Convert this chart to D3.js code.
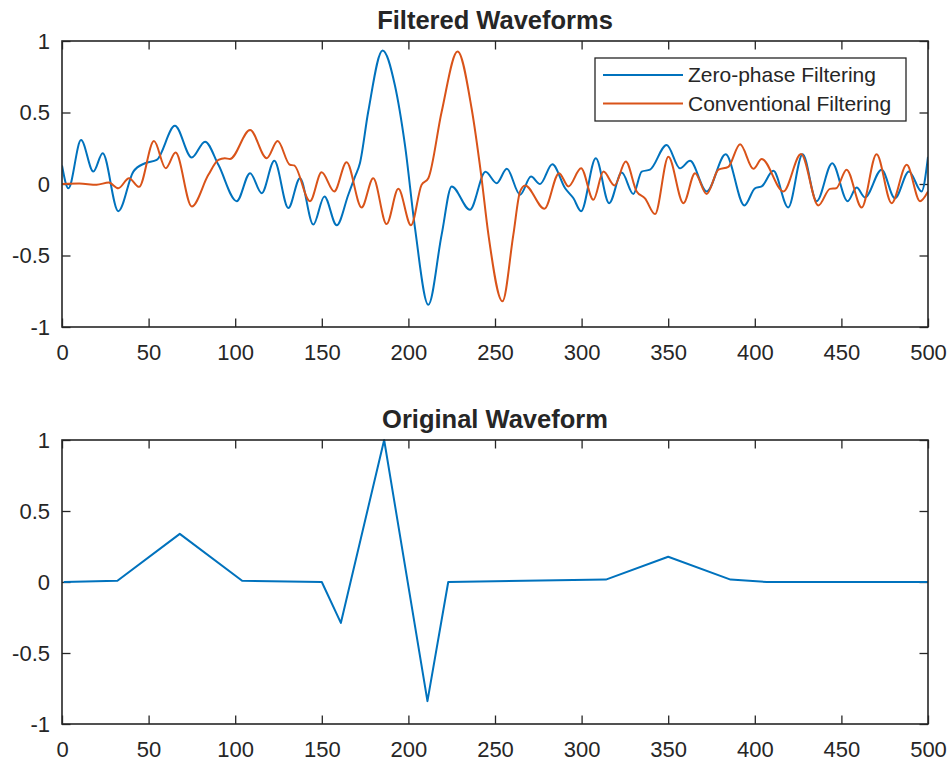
<!DOCTYPE html>
<html><head><meta charset="utf-8">
<script src="https://cdn.jsdelivr.net/npm/d3@7"></script>
<style>
body{margin:0;background:#fff}
svg{display:block}
text{font-family:"Liberation Sans",Arial,Helvetica,sans-serif;fill:#262626}
</style>
</head><body>
<svg id="chart" width="951" height="762"></svg>
<script>
// ---- data ----
const sampleTicks = [0, 50, 100, 150, 200, 250, 300, 350, 400, 450, 500];
const valueTicks = [-1, -0.5, 0, 0.5, 1];
const titles = ["Filtered Waveforms", "Original Waveform"];
const seriesNames = ["Zero-phase Filtering", "Conventional Filtering"];

const zeroPhaseX = [0, 3.7, 11, 18.1, 23.5, 32.5, 41.2, 47.9, 54.7, 65.2, 74.9, 82.6, 90.3, 100.9, 108.6, 115.3, 122.6, 130.7, 137.4, 145.1, 151.5, 158.6, 165.3, 169.1, 172, 176.8, 185.1, 192.2, 198, 203.8, 211.5, 219.2, 225, 235.5, 244.5, 251, 256.8, 264.5, 270.8, 276, 283.1, 290.5, 295.3, 299.7, 308.2, 315.9, 323.2, 329.9, 334.7, 339.5, 349.1, 356.8, 362.6, 372.2, 383.2, 394, 400.1, 404, 410.7, 419.3, 427.6, 435.7, 444.7, 453.6, 458.8, 463.6, 473.2, 480.9, 489, 496.3, 500];
const zeroPhaseY = [0.13, -0.03, 0.307, 0.087, 0.215, -0.19, 0.087, 0.145, 0.168, 0.407, 0.185, 0.296, 0.134, -0.12, 0.076, -0.064, 0.162, -0.168, 0.041, -0.284, -0.087, -0.289, -0.075, 0.05, 0.145, 0.505, 0.934, 0.69, 0.273, -0.307, -0.845, -0.354, -0.017, -0.18, 0.085, 0.006, 0.106, -0.075, 0.052, 0, 0.138, -0.03, -0.1, -0.19, 0.18, -0.134, 0.08, -0.07, 0.087, 0.1, 0.273, 0.11, 0.162, -0.052, 0.208, -0.15, -0.03, -0.017, 0.092, -0.164, 0.208, -0.12, 0.145, -0.12, -0.025, -0.094, 0.1, -0.1, 0.087, -0.052, 0.19];

const conventionalX = [0, 10, 20, 27, 32.5, 38.7, 44.5, 53.1, 59.9, 65.6, 74.9, 84.5, 90.3, 94, 97, 108.6, 118.2, 124.5, 131.6, 134, 143.2, 149.9, 157.2, 164.3, 173, 179.7, 187.4, 194.2, 201.5, 207.6, 211.5, 219.2, 228.4, 236.5, 242, 246.2, 254.3, 260.6, 264.5, 267.4, 278.5, 287, 292.4, 299.7, 306.8, 312.6, 319, 325.5, 331.8, 336.6, 342.4, 350.1, 358.8, 365.5, 372.2, 379, 384.7, 391.5, 399.2, 404, 416.5, 426.7, 436.7, 443.4, 447, 453, 461.7, 470.3, 479, 487.7, 495.4, 500];
const conventionalY = [0, 0.003, -0.005, 0.01, -0.03, 0.04, -0.02, 0.3, 0.11, 0.22, -0.157, 0.064, 0.168, 0.18, 0.175, 0.377, 0.18, 0.3, 0.134, 0.13, -0.12, 0.082, -0.052, 0.152, -0.164, 0.04, -0.28, -0.034, -0.289, -0.006, 0.04, 0.505, 0.927, 0.528, 0.064, -0.354, -0.82, -0.354, -0.052, -0.01, -0.173, 0.076, -0.017, 0.11, -0.11, 0.087, -0.01, 0.157, -0.052, -0.1, -0.21, 0.191, -0.134, 0.076, -0.07, 0.1, 0.12, 0.278, 0.106, 0.175, -0.052, 0.21, -0.15, -0.034, -0.03, 0.1, -0.164, 0.208, -0.134, 0.134, -0.12, -0.052];

const originalX = [1, 32, 68, 104, 150, 161, 186, 211, 223, 314, 350, 386, 407, 444, 500];
const originalY = [0, 0.0085, 0.339, 0.0085, 0, -0.288, 1, -0.839, 0, 0.017, 0.178, 0.017, 0, 0, 0];

// ---- drawing ----
const svg = d3.select("#chart");
const C = { axis: "#262626", blue: "#0072BD", orange: "#D95319" };
const left = 62, right = 928;
const x = d3.scaleLinear().domain([0, 500]).range([left, right]);

function panel(top, bottom, title, idx) {
  const y = d3.scaleLinear().domain([-1, 1]).range([bottom, top]);
  const g = svg.append("g");
  g.append("rect").attr("x", left).attr("y", top).attr("width", right - left).attr("height", bottom - top).attr("fill", "#fff");

  const tickLen = 8.5;
  const styleAxis = sel => {
    sel.select(".domain").remove();
    sel.selectAll(".tick line").attr("stroke", C.axis).attr("stroke-width", 1.3);
    sel.selectAll(".tick text").attr("fill", C.axis).style("font-size", "22px");
  };
  g.append("g").attr("transform", `translate(0,${bottom})`)
    .call(d3.axisBottom(x).tickValues(sampleTicks).tickSizeInner(-tickLen).tickSizeOuter(0).tickPadding(17).tickFormat(d => String(d)))
    .call(styleAxis);
  g.append("g").attr("transform", `translate(0,${top})`)
    .call(d3.axisTop(x).tickValues(sampleTicks).tickSizeInner(-tickLen).tickSizeOuter(0).tickFormat(""))
    .call(styleAxis);
  g.append("g").attr("transform", `translate(${left},0)`)
    .call(d3.axisLeft(y).tickValues(valueTicks).tickSizeInner(-tickLen).tickSizeOuter(0).tickPadding(12).tickFormat(d => String(d)))
    .call(styleAxis);
  g.append("g").attr("transform", `translate(${right},0)`)
    .call(d3.axisRight(y).tickValues(valueTicks).tickSizeInner(-tickLen).tickSizeOuter(0).tickFormat(""))
    .call(styleAxis);

  const clipId = "clip" + idx;
  svg.append("clipPath").attr("id", clipId).append("rect")
    .attr("x", left).attr("y", top - 2).attr("width", right - left).attr("height", bottom - top + 4);

  g.append("text").attr("x", (left + right) / 2).attr("y", top - 12)
    .attr("text-anchor", "middle").style("font-size", "25.5px").style("font-weight", "bold").text(title);

  return { g, y, clipId, top, bottom };
}

const p1 = panel(41, 327, titles[0], 1);
const p2 = panel(440, 724, titles[1], 2);

function drawLine(p, xs, ys, color, curve) {
  const pts = xs.map((v, i) => [v, ys[i]]);
  p.g.append("path").datum(pts)
    .attr("clip-path", `url(#${p.clipId})`)
    .attr("fill", "none").attr("stroke", color).attr("stroke-width", 2)
    .attr("stroke-linejoin", "round")
    .attr("d", d3.line().x(d => x(d[0])).y(d => p.y(d[1])).curve(curve));
}

drawLine(p1, zeroPhaseX, zeroPhaseY, C.blue, d3.curveMonotoneX);
drawLine(p1, conventionalX, conventionalY, C.orange, d3.curveMonotoneX);
drawLine(p2, originalX, originalY, C.blue, d3.curveLinear);

// frames on top
[p1, p2].forEach(p => {
  p.g.append("rect").attr("x", left).attr("y", p.top).attr("width", right - left).attr("height", p.bottom - p.top)
    .attr("fill", "none").attr("stroke", C.axis).attr("stroke-width", 1.6);
});

// legend
const lg = svg.append("g");
lg.append("rect").attr("x", 595).attr("y", 58).attr("width", 311).attr("height", 63)
  .attr("fill", "#fff").attr("stroke", C.axis).attr("stroke-width", 1.3);
const legendColors = [C.blue, C.orange];
seriesNames.forEach((name, i) => {
  const yy = 75 + i * 28.5;
  lg.append("line").attr("x1", 603).attr("x2", 683).attr("y1", yy).attr("y2", yy)
    .attr("stroke", legendColors[i]).attr("stroke-width", 2);
  lg.append("text").attr("x", 688).attr("y", yy).attr("dy", "0.35em")
    .style("font-size", "21px").text(name);
});
</script>
</body></html>
